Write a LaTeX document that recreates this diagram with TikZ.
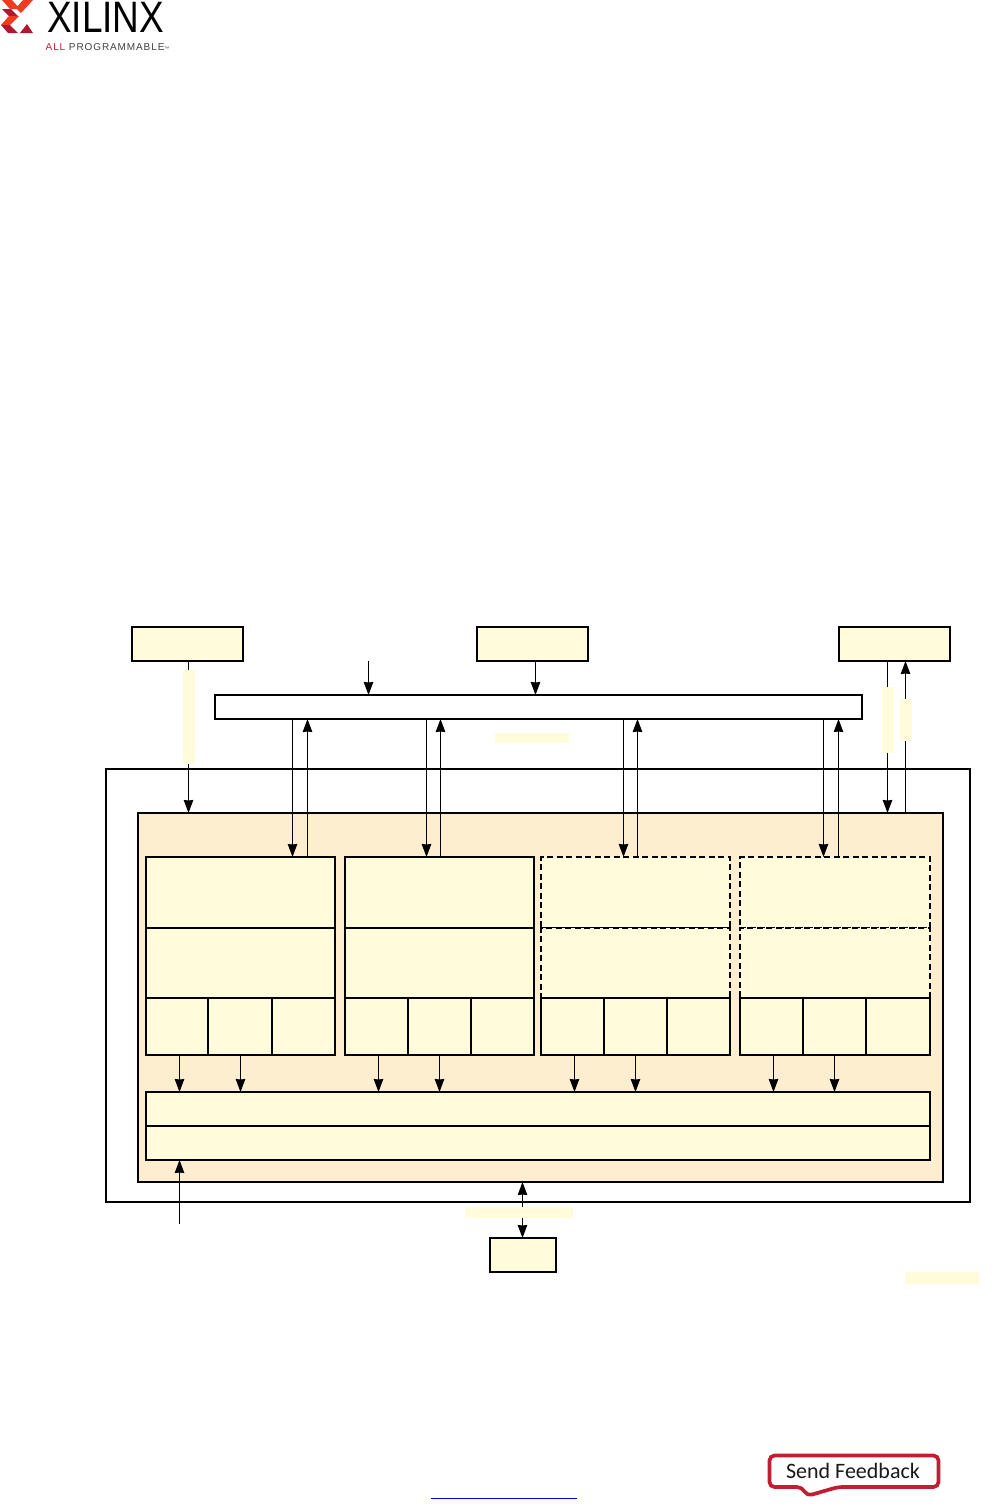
\documentclass[tikz,border=0pt]{standalone}
\usepackage{fontspec}
\usepackage{graphicx}
\setmainfont{Liberation Sans}
\newfontfamily\tagfont[LetterSpace=9]{Liberation Sans}
\newfontfamily\bubblefont{Carlito}
\usetikzlibrary{arrows.meta}
\definecolor{boxyellow}{RGB}{255,251,219}
\definecolor{ipcore}{RGB}{253,238,208}
\definecolor{xlnxred}{RGB}{194,30,50}
\definecolor{xlnxorange}{RGB}{240,60,30}
\definecolor{xlnxdark}{RGB}{176,24,50}
\tikzset{
  sz/.style 2 args={minimum width=#1pt,minimum height=#2pt},
  blockbox/.style={draw,line width=2pt,fill=boxyellow,inner sep=0pt,outer sep=0pt},
  optbox/.style={blockbox,dash pattern=on 6pt off 3.5pt},
  maskbox/.style={fill=boxyellow,inner sep=0pt,outer sep=0pt},
  flow/.style={->,line width=1.2pt}
}
\begin{document}
\begin{tikzpicture}[x=1pt,y=-1pt,>={Stealth[length=13pt,width=9.5pt,inset=0.5pt]},line join=miter]
\useasboundingbox (0,0) rectangle (1008,1510);
% logo
\fill[xlnxorange] (2,0) -- (12,0) -- (20,9) -- (10,9) -- cycle;
\fill[xlnxdark] (2,9) -- (11,9) -- (18,16) -- (9,16) -- cycle;
\fill[xlnxorange] (9,16) -- (19,16) -- (10,25) -- (1,25) -- cycle;
\fill[xlnxdark] (1,25) -- (10,25) -- (18,33) -- (8,33) -- cycle;
\fill[xlnxorange] (23,0) -- (33,0) -- (21,13) -- (16,8) -- cycle;
\fill[xlnxdark] (27,24) -- (33,33) -- (20,33) -- cycle;
\node[anchor=west,inner sep=0pt,font=\fontsize{44}{44}\selectfont] (brand) at (47,17.5) {\scalebox{0.84}[1]{XILINX}};
\node[anchor=west,inner sep=0pt,font=\fontsize{10}{11}\tagfont,text=black!75] (tagline) at (45.5,47) {\textcolor{xlnxred}{ALL} PROGRAMMABLE\raisebox{-0.5pt}{\scalebox{0.5}{™}}};
% top blocks
\node[blockbox,sz={111.5}{34}] (clkA) at (187.5,644) {};
\node[blockbox,sz={111.5}{34}] (clkB) at (532.5,644) {};
\node[blockbox,sz={111.5}{34}] (clkC) at (894.5,644) {};
\node[blockbox,fill=white,sz={647}{24}] (bus) at (538.5,707) {};
% outer and core
\node[draw,line width=2pt,inner sep=0pt,outer sep=0pt,sz={864}{433}] (chip) at (538,985.5) {};
\node[blockbox,fill=ipcore,sz={805}{369}] (core) at (540.5,997.5) {};
\coordinate (in) at (368.5,661);
\coordinate (ext) at (179.5,1224);
% lane 0
\node[blockbox,sz={189}{71}] (laneAtop) at (240.5,892.5) {};
\node[blockbox,sz={189}{70}] (laneAmid) at (240.5,963) {};
\node[blockbox,sz={62.3}{57}] (laneAl) at (177,1026.5) {};
\node[blockbox,sz={63.8}{57}] (laneAc) at (240.1,1026.5) {};
\node[blockbox,sz={63}{57}] (laneAr) at (303.5,1026.5) {};
% lane 1
\node[blockbox,sz={189}{71}] (laneBtop) at (439.5,892.5) {};
\node[blockbox,sz={189}{70}] (laneBmid) at (439.5,963) {};
\node[blockbox,sz={62.7}{57}] (laneBl) at (376.4,1026.5) {};
\node[blockbox,sz={63.3}{57}] (laneBc) at (439.4,1026.5) {};
\node[blockbox,sz={63}{57}] (laneBr) at (502.5,1026.5) {};
% lane 2
\node[optbox,sz={189}{71}] (laneCtop) at (635.5,892.5) {};
\node[optbox,sz={189}{70}] (laneCmid) at (635.5,963) {};
\node[blockbox,sz={63}{57}] (laneCl) at (572.5,1026.5) {};
\node[blockbox,sz={63}{57}] (laneCc) at (635.5,1026.5) {};
\node[blockbox,sz={63}{57}] (laneCr) at (698.5,1026.5) {};
% lane 3
\node[optbox,sz={190}{71}] (laneDtop) at (835,892.5) {};
\node[optbox,sz={190}{70}] (laneDmid) at (835,963) {};
\node[blockbox,sz={63}{57}] (laneDl) at (771.5,1026.5) {};
\node[blockbox,sz={63}{57}] (laneDc) at (834.5,1026.5) {};
\node[blockbox,sz={64}{57}] (laneDr) at (898,1026.5) {};
% shared bars and bottom block
\node[blockbox,sz={784}{34}] (barA) at (538,1109) {};
\node[blockbox,sz={784}{34}] (barB) at (538,1143) {};
\node[blockbox,sz={66.5}{34}] (mem) at (523,1255) {};
% arrow columns
\coordinate (xa) at (292.5,0);
\coordinate (xb) at (307.5,0);
\coordinate (xc) at (426.5,0);
\coordinate (xd) at (440.5,0);
\coordinate (xe) at (623.5,0);
\coordinate (xf) at (637.5,0);
\coordinate (xg) at (823.5,0);
\coordinate (xh) at (838.5,0);
\coordinate (xi) at (188.5,0);
\coordinate (xj) at (887.5,0);
\coordinate (xk) at (905.5,0);
\coordinate (xl) at (535.5,0);
\draw[flow] (clkA.south -| xi) -- (core.north -| xi);
\draw[flow] (in) -- (bus.north -| in);
\draw[flow] (clkB.south -| xl) -- (bus.north -| xl);
\draw[flow] (bus.south -| xa) -- (laneAtop.north -| xa);
\draw[flow] (laneAtop.north -| xb) -- (bus.south -| xb);
\draw[flow] (bus.south -| xc) -- (laneBtop.north -| xc);
\draw[flow] (laneBtop.north -| xd) -- (bus.south -| xd);
\draw[flow] (bus.south -| xe) -- (laneCtop.north -| xe);
\draw[flow] (laneCtop.north -| xf) -- (bus.south -| xf);
\draw[flow] (bus.south -| xg) -- (laneDtop.north -| xg);
\draw[flow] (laneDtop.north -| xh) -- (bus.south -| xh);
\draw[flow] (clkC.south -| xj) -- (core.north -| xj);
\draw[flow] (core.north -| xk) -- (clkC.south -| xk);
\draw[flow] (laneAl.south) ++(2.5,0) coordinate (ya) -- (barA.north -| ya);
\draw[flow] (laneAc.south) ++(0.4,0) coordinate (yb) -- (barA.north -| yb);
\draw[flow] (laneBl.south) ++(2.1,0) coordinate (yc) -- (barA.north -| yc);
\draw[flow] (laneBc.south) ++(0.1,0) coordinate (yd) -- (barA.north -| yd);
\draw[flow] (laneCl.south) ++(2,0) coordinate (ye) -- (barA.north -| ye);
\draw[flow] (laneCc.south) coordinate (yf) -- (barA.north -| yf);
\draw[flow] (laneDl.south) ++(2,0) coordinate (yg) -- (barA.north -| yg);
\draw[flow] (laneDc.south) coordinate (yh) -- (barA.north -| yh);
\draw[flow] (ext) -- (barB.south -| ext);
\draw[flow,<->] (mem.north) ++(-0.5,0) coordinate (ym) -- (core.south -| ym);
% pale label strips
\node[maskbox,sz={12}{94}] (stripA) at (189,717) {};
\node[maskbox,sz={74}{10.5}] (stripB) at (532,738) {};
\node[maskbox,sz={12}{66}] (stripC) at (888,720) {};
\node[maskbox,sz={12}{42}] (stripD) at (906,720) {};
\node[maskbox,sz={108}{11}] (stripE) at (519,1212.5) {};
\node[maskbox,sz={74}{12}] (stripF) at (942,1278) {};
% footer
\draw[blue,line width=1pt] (431,1498) coordinate (linkL) -- (577,1498) coordinate (linkR);
\draw[xlnxred,line width=3.7pt,rounded corners=5pt] (769.5,1455.5) -- (938.5,1455.5) -- (938.5,1487) -- (838,1487) -- (807,1496) -- (802,1487) -- (769.5,1487) -- cycle;
\node[font=\fontsize{22}{24}\bubblefont,text=black!90,inner sep=0pt] (feedback) at (853,1471) {Send Feedback};
\end{tikzpicture}
\end{document}
